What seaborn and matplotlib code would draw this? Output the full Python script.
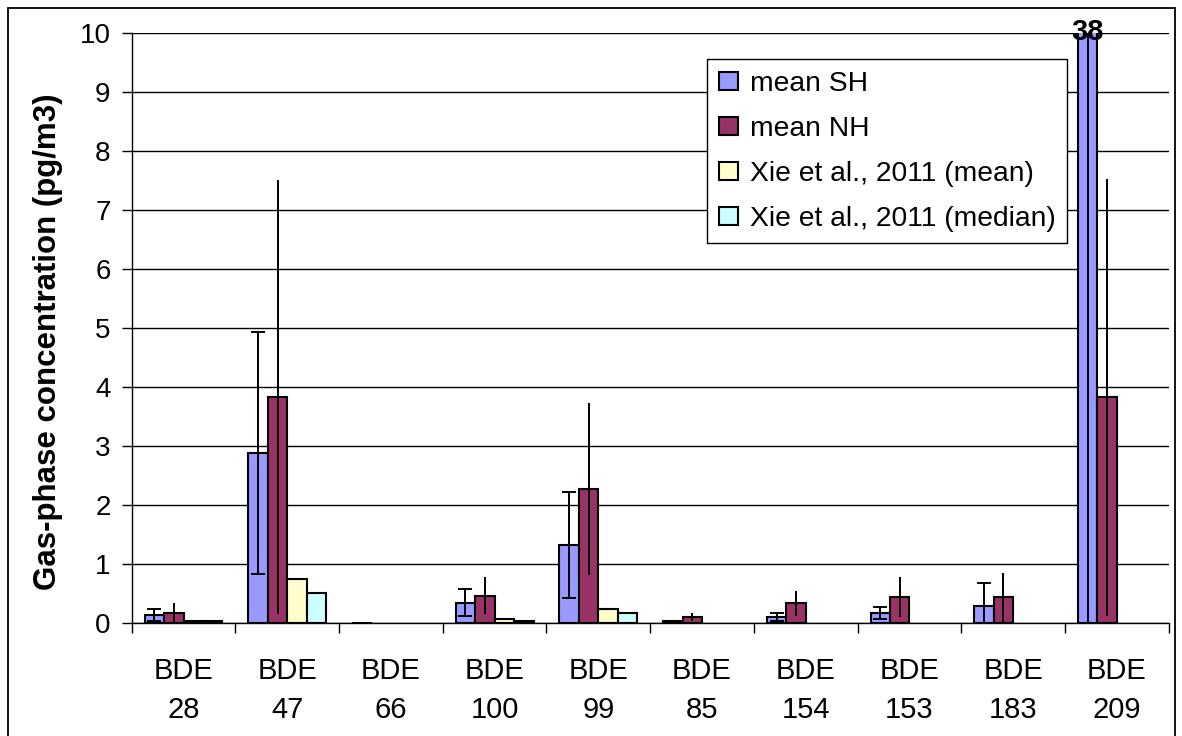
import numpy as np
import pandas as pd
import matplotlib
matplotlib.use("Agg")
import matplotlib.pyplot as plt
import seaborn as sns
from matplotlib.patches import Rectangle

nan = np.nan

# ---- data ----
congeners = ["28", "47", "66", "100", "99", "85", "154", "153", "183", "209"]
categories = ["BDE\n" + c for c in congeners]
series = ["mean SH", "mean NH", "Xie et al., 2011 (mean)", "Xie et al., 2011 (median)"]

mean_sh = [0.14, 2.88, 0.01, 0.35, 1.33, 0.035, 0.11, 0.175, 0.30, 38]
err_sh = [0.10, 2.05, nan, 0.23, 0.90, nan, 0.065, 0.10, 0.38, 40]
mean_nh = [0.18, 3.83, nan, 0.47, 2.28, 0.11, 0.34, 0.45, 0.44, 3.83]
err_nh = [0.16, 3.68, nan, 0.31, 1.46, 0.07, 0.21, 0.34, 0.41, 3.70]
xie_mean = [0.04, 0.75, nan, 0.07, 0.24, nan, nan, nan, nan, nan]
xie_median = [0.035, 0.51, nan, 0.04, 0.175, nan, nan, nan, nan, nan]

colors = ["#9999FF", "#993366", "#FFFFCC", "#CCFFFF"]
label_38 = "38"

values = {series[0]: mean_sh, series[1]: mean_nh, series[2]: xie_mean, series[3]: xie_median}
errors = {series[0]: err_sh, series[1]: err_nh}

df = pd.DataFrame(
    [(cat, s, values[s][i]) for s in series for i, cat in enumerate(categories)],
    columns=["category", "series", "value"],
)

# ---- style ----
sns.set_theme(style="white")
plt.rcParams["font.family"] = ["Liberation Sans", "DejaVu Sans"]
plt.rcParams["text.color"] = "black"

fig = plt.figure(figsize=(11.82, 7.36), dpi=100)
ax = fig.add_axes([131.7 / 1182, 1 - 623.3 / 736, 1037 / 1182, 590 / 736])

sns.barplot(
    data=df, x="category", y="value", hue="series",
    order=categories, hue_order=series, palette=colors,
    width=0.75, errorbar=None, edgecolor="black", linewidth=1.5,
    saturation=1, ax=ax, zorder=2,
)

# error bars
sh_x209 = None
for level, cont in zip(series, ax.containers):
    if level not in errors:
        continue
    xs, ys, es = [], [], []
    for b in cont:
        xc = b.get_x() + b.get_width() / 2
        idx = int(round(xc))
        e = errors[level][idx]
        if level == series[0] and idx == 9:
            sh_x209 = xc
        if np.isnan(e):
            continue
        xs.append(xc)
        ys.append(b.get_height())
        es.append(e)
    ax.errorbar(xs, ys, yerr=es, fmt="none", ecolor="black",
                elinewidth=1.4, capsize=5 if level == series[0] else 0,
                capthick=1.4, zorder=3)

ax.set_ylim(0, 10)
ax.set_xlim(-0.5, 9.5)
ax.set_yticks(range(0, 11))
ax.set_xticks(range(10))
ax.set_xticklabels(categories, linespacing=1.5)
ax.set_xticks(np.arange(-0.5, 10.0, 1), minor=True)

ax.tick_params(axis="x", which="major", length=0, pad=24, labelsize=21, colors="black")
ax.tick_params(axis="x", which="minor", length=7.2, width=1, direction="out", color="black", bottom=True)
ax.tick_params(axis="y", which="major", length=7.2, width=1, direction="out", pad=8,
               labelsize=20, colors="black", left=True)

ax.yaxis.grid(True, color="black", linewidth=1)
ax.set_axisbelow(True)
for s in ["top", "right"]:
    ax.spines[s].set_visible(False)
for s in ["left", "bottom"]:
    ax.spines[s].set_color("black")
    ax.spines[s].set_linewidth(1)

ax.set_xlabel("")
ax.set_ylabel("Gas-phase concentration (pg/m3)", fontsize=22.5, fontweight="bold", color="black")
ax.yaxis.set_label_coords(-0.066, 0.477)

# "38" label for the clipped bar
ax.text(sh_x209, 9.88, label_38, ha="center", va="baseline", fontsize=21,
        fontweight="bold", color="black", clip_on=False, zorder=5)

handles, labels = ax.get_legend_handles_labels()
leg = ax.legend(handles, labels, loc="upper left", bbox_to_anchor=(0.555, 0.956),
                frameon=True, fancybox=False, edgecolor="black", framealpha=1,
                fontsize=20.3, handlelength=0.68, handleheight=0.6, handletextpad=0.42,
                labelspacing=0.68, borderpad=0.4, borderaxespad=0)
leg.get_frame().set_linewidth(1.0)
for t in leg.get_texts():
    t.set_color("black")

fig.patches.append(Rectangle((7.7 / 1182, -0.01), (1175 - 7.7) / 1182, 1 - 7.7 / 736 + 0.01,
                             transform=fig.transFigure, fill=False, edgecolor="black",
                             linewidth=1.3))

fig.savefig("out.png", dpi=100)
